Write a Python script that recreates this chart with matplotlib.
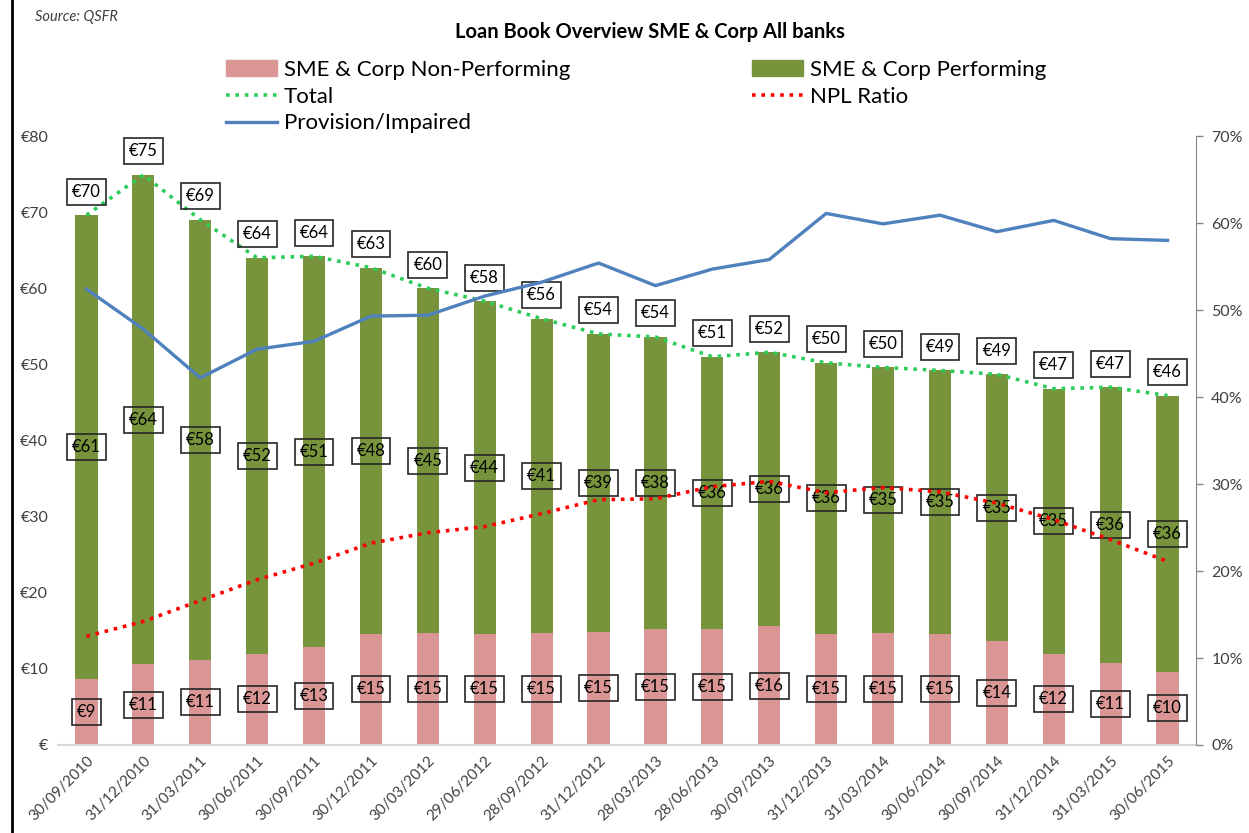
import matplotlib
matplotlib.use("Agg")
import matplotlib.pyplot as plt
from matplotlib.patches import Patch
from matplotlib.lines import Line2D
from matplotlib.ticker import FuncFormatter, MultipleLocator

plt.rcParams['font.family'] = ['Lato', 'DejaVu Sans']

dates = ['30/09/2010', '31/12/2010', '31/03/2011', '30/06/2011', '30/09/2011',
         '30/12/2011', '30/03/2012', '29/06/2012', '28/09/2012', '31/12/2012',
         '28/03/2013', '28/06/2013', '30/09/2013', '31/12/2013', '31/03/2014',
         '30/06/2014', '30/09/2014', '31/12/2014', '31/03/2015', '30/06/2015']

# EUR bn
non_performing = [8.7, 10.6, 11.2, 12.0, 12.9, 14.6, 14.7, 14.6, 14.7, 14.9,
                  15.2, 15.2, 15.6, 14.6, 14.7, 14.6, 13.6, 12.0, 10.8, 9.6]
performing = [60.9, 64.3, 57.8, 52.0, 51.3, 48.1, 45.3, 43.7, 41.3, 39.1,
              38.4, 35.8, 36.0, 35.6, 34.9, 34.6, 35.1, 34.8, 36.2, 36.3]
# percent, right axis
npl_ratio = [12.5, 14.2, 16.6, 19.0, 20.9, 23.2, 24.4, 25.1, 26.6, 28.2,
             28.3, 29.7, 30.3, 29.0, 29.6, 29.1, 27.8, 25.9, 23.6, 21.1]
provision = [52.4, 47.8, 42.2, 45.5, 46.4, 49.3, 49.4, 51.6, 53.2, 55.4,
             52.8, 54.7, 55.8, 61.1, 59.9, 60.9, 59.0, 60.3, 58.2, 58.0]

total = [a + b for a, b in zip(non_performing, performing)]

pink = '#D99694'
green = '#77933C'
total_green = '#2ECC5A'
blue = '#4F81BD'

fig = plt.figure(figsize=(12.49, 8.33), dpi=100)
ax = fig.add_axes([58 / 1249, 88 / 833, (1196 - 58) / 1249, (745 - 136) / 833])
ax2 = ax.twinx()

x = list(range(len(dates)))
w = 0.39
ax.bar(x, non_performing, w, color=pink, zorder=2)
ax.bar(x, performing, w, bottom=non_performing, color=green, zorder=2)
ax.plot(x, total, ls=(0, (1, 1.6)), lw=2.6, color=total_green, zorder=3)

ax2.plot(x, npl_ratio, ls=(0, (1, 1.6)), lw=2.6, color='#FF0000', zorder=3)
ax2.plot(x, provision, lw=2.4, color=blue, zorder=3)

box = dict(boxstyle='square,pad=0.3', fc='none', ec='#262626', lw=1.2)
lab_kw = dict(ha='center', va='center', fontsize=12, color='black', bbox=box, zorder=5)
for i in x:
    ax.text(i, non_performing[i] / 2, '€%d' % round(non_performing[i]), **lab_kw)
    ax.text(i, non_performing[i] + performing[i] / 2, '€%d' % round(performing[i]), **lab_kw)
    ax.annotate('€%d' % round(total[i]), (i, total[i]), xytext=(0, 17),
                textcoords='offset points', **lab_kw)

ax.set_xlim(-0.5, len(dates) - 0.5)
ax.set_ylim(0, 80)
ax2.set_ylim(0, 70)
ax.yaxis.set_major_locator(MultipleLocator(10))
ax2.yaxis.set_major_locator(MultipleLocator(10))
ax.yaxis.set_major_formatter(FuncFormatter(lambda v, p: '€%d' % v if v else '€'))
ax2.yaxis.set_major_formatter(FuncFormatter(lambda v, p: '%d%%' % v))

ax.set_xticks(x)
ax.set_xticklabels(dates, rotation=45, ha='right', rotation_mode='anchor', fontsize=11,
                   color='#404040')
ax.tick_params(axis='x', length=0, pad=6)
ax.tick_params(axis='y', length=0, labelsize=11.5, labelcolor='#404040', pad=7)
ax2.tick_params(axis='y', length=5, width=1, color='#868686', labelsize=11.5,
                labelcolor='#404040', pad=6)

for s in ['top', 'left', 'right']:
    ax.spines[s].set_visible(False)
ax.spines['bottom'].set_color('#D9D9D9')
ax.spines['bottom'].set_linewidth(1.5)
for s in ['top', 'left', 'bottom']:
    ax2.spines[s].set_visible(False)
ax2.spines['right'].set_color('#868686')

fig.text(650 / 1249, 1 - 32 / 833, 'Loan Book Overview SME & Corp All banks', ha='center',
         va='center', fontsize=14.5, fontweight='bold')
fig.text(35 / 1249, 1 - 17 / 833, 'Source: QSFR', ha='left', va='center', fontsize=10.5,
         style='italic', color='#404040')
fig.add_artist(Line2D([12 / 1249, 12 / 1249], [0, 1], color='black', lw=2))

handles = [Patch(color=pink), Line2D([], [], ls=(0, (1, 1.6)), lw=2.6, color=total_green),
           Line2D([], [], lw=2.4, color=blue), Patch(color=green),
           Line2D([], [], ls=(0, (1, 1.6)), lw=2.6, color='#FF0000')]
labels = ['SME & Corp Non-Performing', 'Total', 'Provision/Impaired',
          'SME & Corp Performing', 'NPL Ratio']
fig.legend(handles, labels, ncol=2, loc='upper left', bbox_to_anchor=(226 / 1249, 1 - 60 / 833),
           frameon=False, fontsize=16, handlelength=2.3, handleheight=0.7, handletextpad=0.3,
           columnspacing=8.2, labelspacing=0.3, borderpad=0, borderaxespad=0)

fig.savefig('out.png', dpi=100)
